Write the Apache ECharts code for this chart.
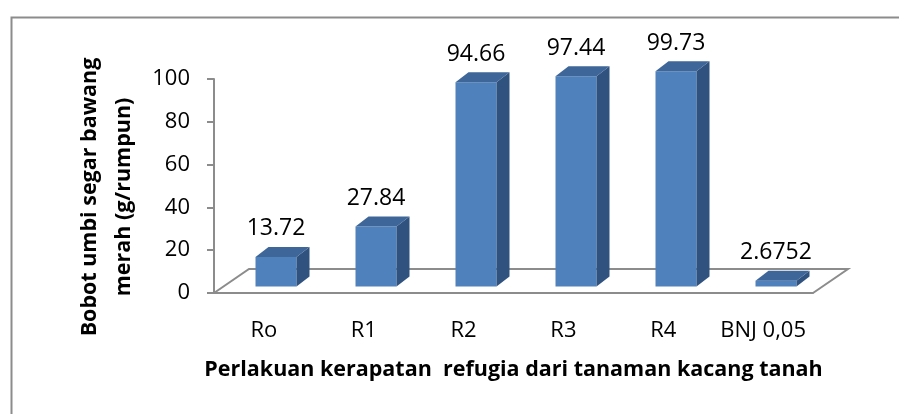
<!DOCTYPE html>
<html>
<head>
<meta charset="utf-8">
<script src="https://cdn.jsdelivr.net/npm/echarts@6/dist/echarts.min.js"></script>
<style>
html,body{margin:0;padding:0;background:#fff;}
#chart{width:899px;height:414px;}
</style>
</head>
<body>
<div id="chart"></div>
<script>
// ---- data ----
const categories = ['Ro', 'R1', 'R2', 'R3', 'R4', 'BNJ 0,05'];
const values = [13.72, 27.84, 94.66, 97.44, 99.73, 2.6752];
const yTicks = [0, 20, 40, 60, 80, 100];
const xTitle = 'Perlakuan kerapatan  refugia dari tanaman kacang tanah';
const yTitle = 'Bobot umbi segar bawang\nmerah (g/rumpun)';

// ---- styles ----
const FONT = '"Open Sans", "Noto Sans", sans-serif';
const FRONT = '#4F81BD';
const SIDE = '#30527F';
const TOP = '#3E6698';
const AXIS = '#8C8C8C';
const DEPTH_X = 13, DEPTH_Y = 10, HALF_W = 20.5;
const FLOOR_DX = 35, FLOOR_DY = 24;

const chart = echarts.init(document.getElementById('chart'));

function renderFloor(params, api) {
  const band = api.size([1, 0])[0];
  const p0 = api.coord([0, 0]);
  const p1 = api.coord([categories.length - 1, 0]);
  const xl = p0[0] - band / 2, xr = p1[0] + band / 2, y = p0[1];
  const ls = { stroke: AXIS, lineWidth: 2, fill: null };
  return {
    type: 'group',
    children: [
      { type: 'polyline', shape: { points: [[xl, y], [xl + FLOOR_DX, y - FLOOR_DY], [xr + FLOOR_DX, y - FLOOR_DY], [xr, y]] }, style: ls }
    ]
  };
}

function renderBar(params, api) {
  const i = api.value(0), v = api.value(1);
  const top = api.coord([i, v]);
  const bot = api.coord([i, 0]);
  const l = top[0] - HALF_W, r = top[0] + HALF_W;
  const t = top[1], b = bot[1];
  return {
    type: 'group',
    children: [
      { type: 'rect', shape: { x: l, y: t, width: 2 * HALF_W, height: b - t }, style: { fill: FRONT } },
      { type: 'polygon', shape: { points: [[r, t], [r + DEPTH_X, t - DEPTH_Y], [r + DEPTH_X, b - DEPTH_Y], [r, b]] }, style: { fill: SIDE } },
      { type: 'polygon', shape: { points: [[l, t], [l + DEPTH_X, t - DEPTH_Y], [r + DEPTH_X, t - DEPTH_Y], [r, t]] }, style: { fill: TOP } },
      { type: 'text', x: top[0], y: t - DEPTH_Y - 18, style: { text: String(values[i]), fontSize: 23, fontFamily: FONT, fill: '#000', align: 'center', verticalAlign: 'middle' } }
    ]
  };
}

chart.setOption({
  animation: false,
  backgroundColor: '#fff',
  graphic: [
    { type: 'rect', left: 9, top: 15, shape: { width: 900, height: 420 }, style: { fill: null, stroke: AXIS, lineWidth: 2 }, silent: true }
  ],
  grid: [
    { left: 214, right: 86, top: 79, bottom: 121, containLabel: false },
    { left: 226, right: 73, top: 70.7, bottom: 127.5, containLabel: false }
  ],
  xAxis: [
    {
      type: 'category', gridIndex: 0, data: categories,
      axisLine: { lineStyle: { color: AXIS, width: 2 } },
      axisTick: { length: 7, lineStyle: { color: AXIS, width: 2 } },
      axisLabel: { color: '#000', fontSize: 22, fontFamily: FONT, margin: 27, interval: 0 },
      name: xTitle, nameLocation: 'middle', nameGap: 66,
      nameTextStyle: { color: '#000', fontSize: 21.5, fontWeight: 'bold', fontFamily: FONT }
    },
    { type: 'category', gridIndex: 1, data: categories, show: false }
  ],
  yAxis: [
    {
      type: 'value', gridIndex: 0, min: 0, max: 100, interval: 20,
      axisLine: { show: true, lineStyle: { color: AXIS, width: 2 } },
      axisTick: { show: true, length: 7, lineStyle: { color: AXIS, width: 2 } },
      splitLine: { show: false },
      axisLabel: { color: '#000', fontSize: 22, fontFamily: FONT, margin: 24, formatter: v => yTicks.includes(v) ? String(v) : '' },
      name: yTitle, nameLocation: 'middle', nameGap: 72,
      nameTextStyle: { color: '#000', fontSize: 21.5, fontWeight: 'bold', fontFamily: FONT, lineHeight: 34, align: 'center', padding: [0, 22, 0, 0] }
    },
    { type: 'value', gridIndex: 1, min: 0, max: 100, show: false }
  ],
  series: [
    {
      type: 'custom', xAxisIndex: 0, yAxisIndex: 0, z: 1,
      renderItem: renderFloor, data: [[0, 0]], silent: true
    },
    {
      type: 'custom', xAxisIndex: 1, yAxisIndex: 1, z: 3,
      renderItem: renderBar,
      data: values.map((v, i) => [i, v]),
      encode: { x: 0, y: 1 }
    }
  ]
});
</script>
</body>
</html>
